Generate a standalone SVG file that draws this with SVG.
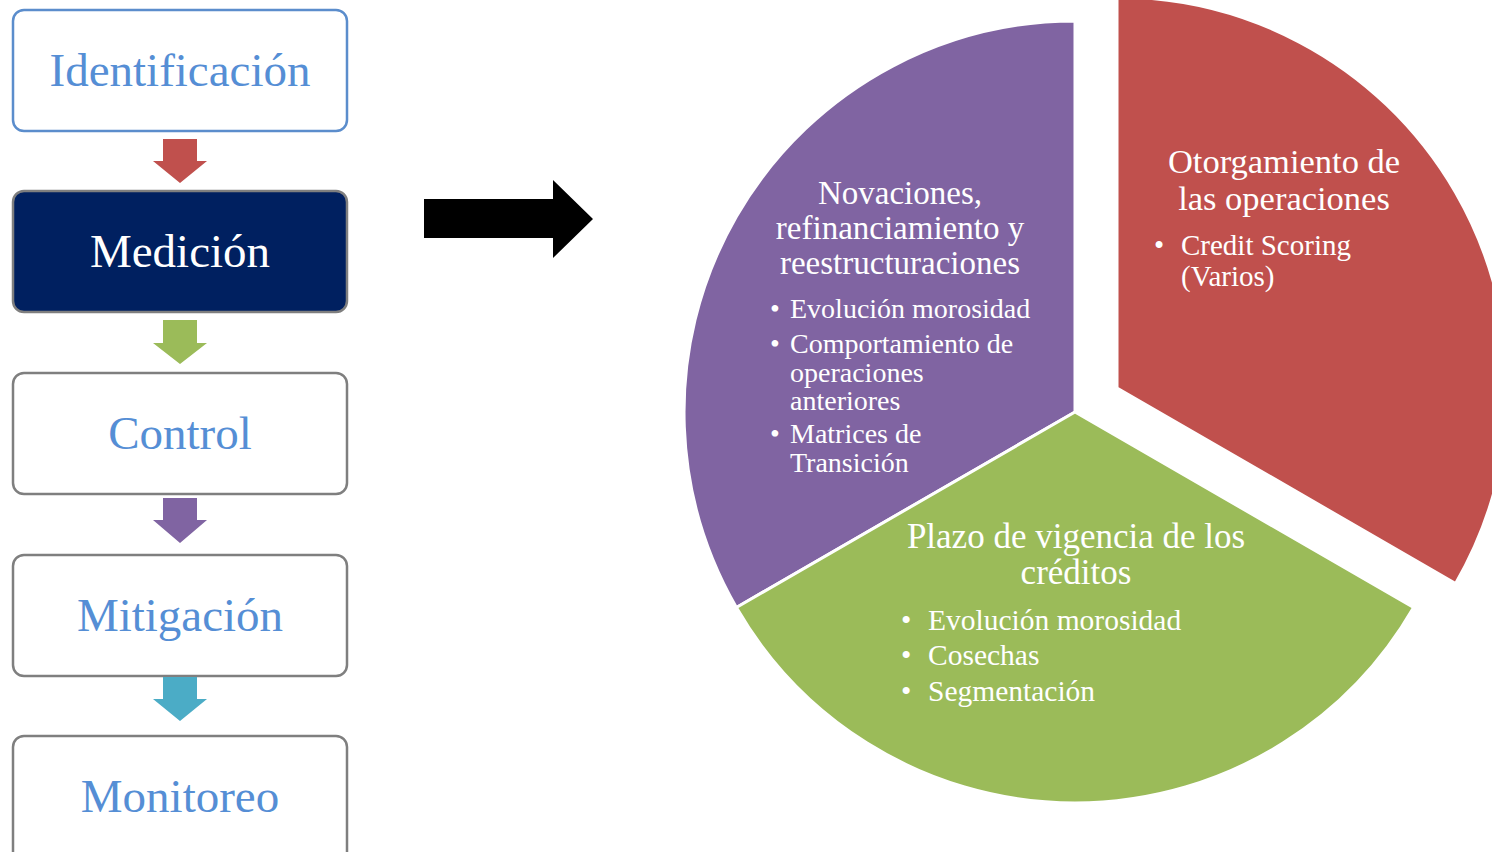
<svg xmlns="http://www.w3.org/2000/svg" width="1492" height="852" viewBox="0 0 1492 852">
  <style>
    .box { fill: #ffffff; stroke: #7f7f7f; stroke-width: 2.5; }
    .box-blue { stroke: #5b8dcc; }
    .box-dark { fill: #002060; }
    .step { font-family: "Liberation Serif", "Times New Roman", serif; font-size: 47px; text-anchor: middle; fill: #558ed5; }
    .step-dark { fill: #ffffff; }
    .slice { stroke: #ffffff; stroke-width: 3; stroke-linejoin: round; }
    .title { font-family: "Liberation Serif", "Times New Roman", serif; fill: #ffffff; text-anchor: middle; }
    .item { font-family: "Liberation Serif", "Times New Roman", serif; fill: #ffffff; }
  </style>

  <rect width="1492" height="852" fill="#ffffff"/>

  <!-- process steps -->
  <g id="step-identificacion">
    <rect class="box box-blue" x="13" y="10" width="334" height="121" rx="11"/>
    <text class="step" x="180" y="86">Identificación</text>
  </g>
  <g id="step-medicion">
    <rect class="box box-dark" x="13" y="191" width="334" height="121" rx="11"/>
    <text class="step step-dark" x="180" y="267">Medición</text>
  </g>
  <g id="step-control">
    <rect class="box" x="13" y="373" width="334" height="121" rx="11"/>
    <text class="step" x="180" y="449">Control</text>
  </g>
  <g id="step-mitigacion">
    <rect class="box" x="13" y="555" width="334" height="121" rx="11"/>
    <text class="step" x="180" y="631">Mitigación</text>
  </g>
  <g id="step-monitoreo">
    <rect class="box" x="13" y="736" width="334" height="130" rx="11"/>
    <text class="step" x="180" y="812">Monitoreo</text>
  </g>

  <!-- connectors between steps and toward the pie -->
  <g id="connectors">
    <polygon fill="#c0504d" points="163,139 197,139 197,161 207,161 180,183 153,161 163,161"/>
    <polygon fill="#9bbb59" points="163,320 197,320 197,343 207,343 180,364 153,343 163,343"/>
    <polygon fill="#8064a2" points="163,498 197,498 197,520 207,520 180,543 153,520 163,520"/>
    <polygon fill="#4bacc6" points="163,677 197,677 197,699 207,699 180,721 153,699 163,699"/>
    <polygon fill="#000000" points="424,199 553,199 553,180 593,219 553,258 553,238 424,238"/>
  </g>

  <!-- pie segments -->
  <g id="segment-novaciones">
    <path class="slice" fill="#8064a2" d="M1075,412 L1075,21 A391,391 0 0 0 736.4,607.5 Z"/>
    <text class="title" font-size="33" x="900" y="204">Novaciones,</text>
    <text class="title" font-size="33" x="900" y="239">refinanciamiento y</text>
    <text class="title" font-size="33" x="900" y="274">reestructuraciones</text>
    <g class="item" font-size="28">
      <text x="770" y="318">•</text>
      <text x="790" y="318">Evolución morosidad</text>
      <text x="770" y="353">•</text>
      <text x="790" y="353">Comportamiento de</text>
      <text x="790" y="382">operaciones</text>
      <text x="790" y="410">anteriores</text>
      <text x="770" y="443">•</text>
      <text x="790" y="443">Matrices de</text>
      <text x="790" y="472">Transición</text>
    </g>
  </g>

  <g id="segment-plazo">
    <path class="slice" fill="#9bbb59" d="M1075,412 L1413.6,607.5 A391,391 0 0 1 736.4,607.5 Z"/>
    <text class="title" font-size="35" x="1076" y="548">Plazo de vigencia de los</text>
    <text class="title" font-size="35" x="1076" y="584">créditos</text>
    <g class="item" font-size="29.5">
      <text x="901" y="630">•</text>
      <text x="928" y="630">Evolución morosidad</text>
      <text x="901" y="665">•</text>
      <text x="928" y="665">Cosechas</text>
      <text x="901" y="701">•</text>
      <text x="928" y="701">Segmentación</text>
    </g>
  </g>

  <g id="segment-otorgamiento">
    <path class="slice" fill="#c0504d" d="M1117,388 L1117,-3 A391,391 0 0 1 1455.6,583.5 Z"/>
    <text class="title" font-size="34.5" x="1284" y="173">Otorgamiento de</text>
    <text class="title" font-size="34.5" x="1284" y="210">las operaciones</text>
    <g class="item" font-size="29">
      <text x="1154" y="255">•</text>
      <text x="1181" y="255">Credit Scoring</text>
      <text x="1181" y="286">(Varios)</text>
    </g>
  </g>
</svg>
